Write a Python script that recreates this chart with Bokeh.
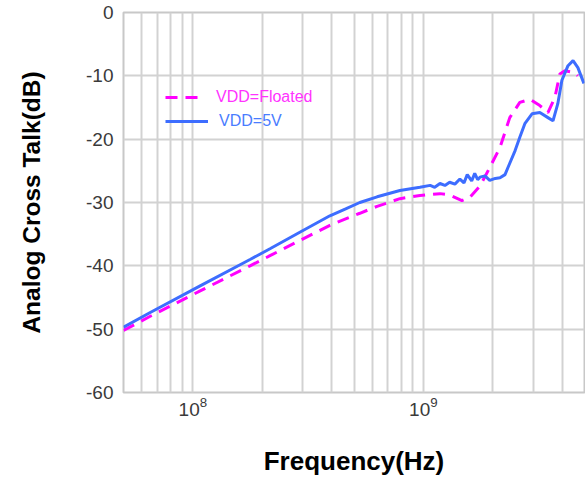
from bokeh.plotting import figure
from bokeh.models import (FixedTicker, LogTickFormatter, PrintfTickFormatter, Legend,
                          LegendItem, Range1d)
from bokeh.embed import file_html
from bokeh.resources import INLINE

# ---- data ----
freq_5v = [5.0e7, 6.5e7, 1.07e8, 1.77e8, 2.16e8, 2.91e8, 3.93e8, 4.6e8, 5.3e8, 6.3e8,
           7.91e8, 9.66e8,
           1.07e9, 1.12e9, 1.18e9, 1.24e9, 1.30e9, 1.37e9, 1.44e9, 1.50e9, 1.55e9, 1.62e9,
           1.67e9, 1.72e9, 1.76e9, 1.85e9, 1.94e9, 2.05e9, 2.15e9, 2.26e9, 2.37e9, 2.50e9,
           2.62e9, 2.76e9, 2.96e9, 3.20e9, 3.47e9, 3.65e9, 3.83e9, 3.99e9, 4.24e9, 4.46e9,
           4.68e9, 4.97e9]
db_5v = [-49.7, -47.4, -43.2, -39.0, -37.3, -34.7, -32.1, -31.0, -30.0, -29.1,
         -28.1, -27.6,
         -27.3, -27.6, -27.0, -27.3, -26.8, -27.1, -26.3, -26.9, -25.6, -26.6,
         -25.4, -26.4, -26.0, -25.8, -26.5, -26.2, -26.1, -25.6, -23.8, -21.8,
         -19.7, -17.5, -16.0, -15.8, -16.6, -17.1, -14.4, -10.7, -8.4, -7.6,
         -8.7, -11.2]

freq_fl = [5.0e7, 6.5e7, 1.07e8, 1.77e8, 2.16e8, 2.91e8, 3.93e8, 4.6e8, 5.3e8, 6.3e8,
           7.91e8, 9.66e8,
           1.18e9, 1.30e9, 1.47e9, 1.59e9, 1.76e9, 1.94e9, 2.15e9, 2.37e9, 2.62e9, 2.90e9,
           3.20e9, 3.47e9, 3.72e9, 3.91e9, 4.11e9, 4.54e9, 4.68e9]
db_fl = [-50.2, -48.0, -44.0, -40.0, -38.4, -36.0, -33.6, -32.6, -31.7, -30.6,
         -29.4, -28.9,
         -28.6, -28.8, -29.7, -29.2, -27.4, -24.5, -21.3, -16.6, -14.2, -13.7,
         -14.7, -15.8, -13.4, -9.7, -9.2, -9.5, -10.0]

x_major = [1e8, 1e9]
y_ticks = [0, -10, -20, -30, -40, -50, -60]
label_fl = "VDD=Floated"
label_5v = "VDD=5V"

FONT = "Liberation Sans"
GRID = "#d2d2d2"

p = figure(width=585, height=481, x_axis_type="log",
           x_range=Range1d(5e7, 5e9), y_range=Range1d(-60, 0),
           output_backend="svg", toolbar_location=None,
           min_border_left=123, min_border_right=1, min_border_top=12, min_border_bottom=89)
p.background_fill_color = "white"
p.border_fill_color = "white"
p.outline_line_color = "#c8c8c8"
p.outline_line_width = 2

minor = [m * d for d in (1e7, 1e8, 1e9) for m in range(2, 10) if 5e7 <= m * d <= 5e9]
p.xaxis.ticker = FixedTicker(ticks=x_major, minor_ticks=minor)
p.xaxis.formatter = LogTickFormatter()
p.yaxis.ticker = FixedTicker(ticks=y_ticks)
p.yaxis.formatter = PrintfTickFormatter(format="%d")

for ax in (p.xaxis, p.yaxis):
    ax.axis_line_color = None
    ax.major_tick_line_color = None
    ax.minor_tick_line_color = None
    ax.major_tick_out = 0
    ax.major_tick_in = 0
    ax.minor_tick_out = 0
    ax.minor_tick_in = 0
    ax.major_label_text_font = FONT
    ax.major_label_text_font_size = "19px"
    ax.major_label_text_color = "#3a3a3a"
    ax.axis_label_text_font = FONT
    ax.axis_label_text_font_style = "bold"
    ax.axis_label_text_color = "black"

p.xaxis.axis_label = "Frequency(Hz)"
p.yaxis.axis_label = "Analog Cross Talk(dB)"
p.xaxis.axis_label_text_font_size = "26px"
p.yaxis.axis_label_text_font_size = "24.5px"
p.xaxis.major_label_standoff = 4
p.yaxis.major_label_standoff = 10
p.xaxis.axis_label_standoff = 27
p.yaxis.axis_label_standoff = 38

p.xgrid.grid_line_color = GRID
p.xgrid.grid_line_width = 2
p.xgrid.minor_grid_line_color = GRID
p.xgrid.minor_grid_line_width = 2
p.ygrid.grid_line_color = GRID
p.ygrid.grid_line_width = 2

r_fl = p.line(freq_fl, db_fl, line_color="#ff00ff", line_width=3, line_dash="12 8")
r_5v = p.line(freq_5v, db_5v, line_color="#3d6dff", line_width=3)

leg1 = Legend(items=[LegendItem(label=label_fl, renderers=[r_fl])], location=(42, 285),
              glyph_width=35, label_standoff=16, label_text_color="#ff33ff",
              label_text_font=FONT, label_text_font_size="16px",
              border_line_color=None, background_fill_alpha=0, padding=0, margin=0)
leg2 = Legend(items=[LegendItem(label=label_5v, renderers=[r_5v])], location=(42, 261),
              glyph_width=43, label_standoff=11, label_text_color="#4a7dff",
              label_text_font=FONT, label_text_font_size="16px",
              border_line_color=None, background_fill_alpha=0, padding=0, margin=0)
p.add_layout(leg1, "center")
p.add_layout(leg2, "center")

open("out.html", "w").write(file_html(p, INLINE))
